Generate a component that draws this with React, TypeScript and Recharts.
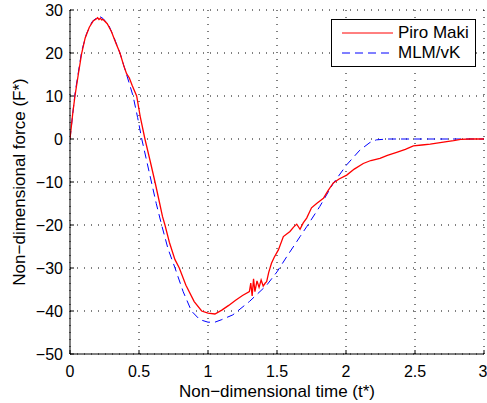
import React from "react";
import {
  CartesianGrid,
  Legend,
  Line,
  LineChart,
  XAxis,
  YAxis,
} from "recharts";

// Piro Maki (red, measured) – noisy around t* = 1.3
const pmTime = [
  0, 0.01, 0.02, 0.036, 0.06, 0.085, 0.11, 0.14, 0.17, 0.19, 0.2, 0.21, 0.22, 0.23, 0.24, 0.27, 0.3, 0.33,
  0.362, 0.39, 0.41, 0.43, 0.45, 0.483, 0.51, 0.543, 0.58, 0.616, 0.65, 0.67, 0.688, 0.72, 0.76,
  0.792, 0.84, 0.9, 0.954, 1.0, 1.05, 1.1, 1.15, 1.2, 1.25, 1.3, 1.31, 1.32, 1.33, 1.34, 1.355,
  1.37, 1.385, 1.4, 1.415, 1.425, 1.44, 1.46, 1.48, 1.51, 1.546, 1.594, 1.62, 1.643, 1.667, 1.69,
  1.715, 1.75, 1.787, 1.82, 1.836, 1.87, 1.908, 1.95, 2.005, 2.06, 2.125, 2.18, 2.246, 2.3, 2.367,
  2.43, 2.488, 2.55, 2.61, 2.67, 2.73, 2.78, 2.83, 2.9, 3.0,
];
const pmForce = [
  0, 3, 6, 10, 15, 20, 23.5, 26, 27.5, 27.9, 28.2, 27.8, 28.1, 27.7, 27.8, 26.8, 25, 22.5,
  20, 17, 15.2, 14.2, 12.5, 10, 5, 0, -5, -10, -15, -18, -20, -24, -28,
  -30, -34, -37.8, -40, -40.5, -40.7, -39.8, -38.7, -37.5, -36.4, -35.5, -33.5, -36.5, -32.5, -35.5, -33,
  -34.5, -32.8, -34.2, -33.5, -33.2, -31, -28.9, -27.5, -25.8, -22.7, -21.5, -20.5, -19.8, -21, -19.5,
  -18.4, -16, -15, -14.2, -13.8, -12, -10.2, -9.3, -8.4, -7, -5.7, -5, -4.5, -3.8, -3.1,
  -2.4, -1.6, -1.4, -1.2, -0.9, -0.6, -0.4, -0.1, 0, 0,
];

// MLM/vK (blue dashed, model)
const mlmTime = [
  0, 0.036, 0.085, 0.12, 0.16, 0.2, 0.215, 0.24, 0.28, 0.32, 0.362, 0.41, 0.457, 0.49, 0.52, 0.555,
  0.59, 0.625, 0.664, 0.71, 0.761, 0.82, 0.88, 0.94, 1.0, 1.05, 1.1, 1.18, 1.3, 1.425, 1.5, 1.57,
  1.667, 1.715, 1.81, 1.908, 2.005, 2.1, 2.174, 2.22, 2.3, 3.0,
];
const mlmForce = [
  0, 10.5, 20.5, 24.5, 27.3, 28.4, 28.5, 28, 26.5, 23.5, 20, 15, 10, 5, 0, -5,
  -10, -15, -20, -25.5, -30, -35.5, -40, -42, -42.6, -42.6, -42, -40.9, -37.8, -34, -30.9, -27.4,
  -22.7, -20.4, -15.7, -10.3, -6.0, -2.6, -0.8, -0.2, 0, 0,
];

const xTicks = [0, 0.5, 1, 1.5, 2, 2.5, 3];
const yTicks = [-50, -40, -30, -20, -10, 0, 10, 20, 30];

const pmData = pmTime.map((t, i) => ({ t, f: pmForce[i] }));
const mlmData = mlmTime.map((t, i) => ({ t, f: mlmForce[i] }));

const FONT = "'Liberation Sans', Arial, Helvetica, sans-serif";
const fmt = (v: number) => String(v).replace("-", "\u2212");

const legendItems = [
  { name: "Piro Maki", color: "#ff0000", dash: undefined as string | undefined },
  { name: "MLM/vK", color: "#0000ff", dash: "8 5" },
];

function LegendBox() {
  return (
    <div
      style={{
        width: 145,
        height: 48,
        border: "1px solid #000",
        background: "#fff",
        fontFamily: FONT,
        fontSize: 17,
        boxSizing: "border-box",
        paddingTop: 3,
        lineHeight: "20px",
      }}
    >
      {legendItems.map((it) => (
        <div key={it.name} style={{ display: "flex", alignItems: "center", height: 20 }}>
          <svg width={66} height={10}>
            <line x1={10} x2={61} y1={5} y2={5} stroke={it.color} strokeWidth={1} strokeDasharray={it.dash} />
          </svg>
          <span style={{ color: "#000" }}>{it.name}</span>
        </div>
      ))}
    </div>
  );
}

export default function App() {
  return (
    <div style={{ position: "absolute", left: 0, top: 0, background: "#fff" }}>
      <LineChart
        width={487}
        height={403}
        margin={{ top: 10, right: 3, bottom: 0, left: 0 }}
        style={{ fontFamily: FONT }}
      >
        <CartesianGrid xAxisId="b" yAxisId="l" stroke="#000" strokeDasharray="1 6" strokeWidth={1} />
        <XAxis
          xAxisId="b"
          type="number"
          dataKey="t"
          domain={[0, 3]}
          ticks={xTicks}
          allowDataOverflow
          height={49}
          stroke="#000"
          tickSize={-4}
          tickMargin={16}
          tick={{ fill: "#000", fontSize: 16, fontFamily: FONT }}
          label={{ value: "Non\u2212dimensional time (t*)", position: "insideBottom", offset: 6, fill: "#000", fontSize: 17, fontFamily: FONT }}
        />
        <XAxis xAxisId="top" orientation="top" type="number" domain={[0, 3]} ticks={xTicks} height={0} stroke="#000" tickSize={-4} tick={false} />
        <YAxis
          yAxisId="l"
          type="number"
          domain={[-50, 30]}
          ticks={yTicks}
          width={70}
          stroke="#000"
          tickSize={-4}
          tickMargin={11}
          tickFormatter={fmt}
          tick={{ fill: "#000", fontSize: 16, fontFamily: FONT }}
          label={{
            content: ({ viewBox }: any) => (
              <text
                x={19}
                y={viewBox.y + viewBox.height / 2}
                transform={`rotate(-90 19 ${viewBox.y + viewBox.height / 2})`}
                textAnchor="middle"
                dominantBaseline="central"
                fill="#000"
                fontSize={17}
                fontFamily={FONT}
              >
                Non{"\u2212"}dimensional force (F*)
              </text>
            ),
          }}
        />
        <YAxis yAxisId="r" orientation="right" type="number" domain={[-50, 30]} ticks={yTicks} width={0} stroke="#000" tickSize={-4} tick={false} />
        <Legend
          layout="horizontal"
          verticalAlign="middle"
          align="center"
          content={() => <LegendBox />}
          wrapperStyle={{ left: 331, top: 19, width: 145, height: 48 }}
        />
        <Line
          xAxisId="b"
          yAxisId="l"
          data={mlmData}
          dataKey="f"
          type="linear"
          stroke="#0000ff"
          strokeWidth={1}
          strokeDasharray="8 5"
          dot={false}
          isAnimationActive={false}
        />
        <Line
          xAxisId="b"
          yAxisId="l"
          data={pmData}
          dataKey="f"
          type="linear"
          stroke="#ff0000"
          strokeWidth={1.3}
          dot={false}
          isAnimationActive={false}
        />
      </LineChart>
    </div>
  );
}
